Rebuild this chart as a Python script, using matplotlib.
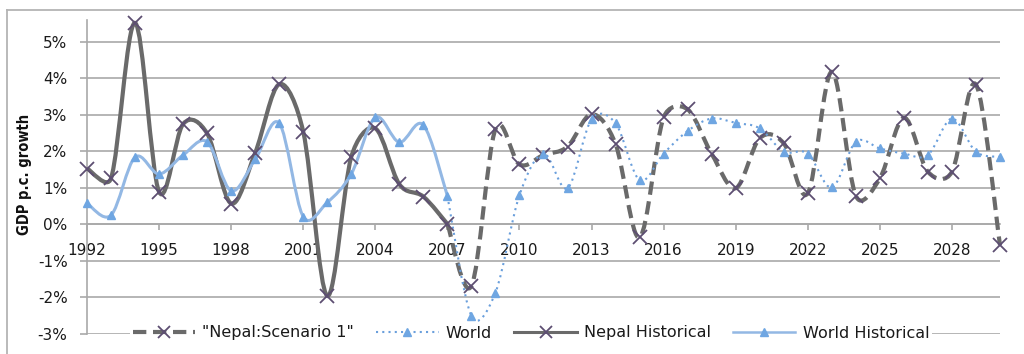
import numpy as np
import matplotlib
matplotlib.use("Agg")
import matplotlib.pyplot as plt
from matplotlib.path import Path
from matplotlib.patches import PathPatch
from matplotlib.lines import Line2D

# ---- data (GDP per-capita growth, %) ----
hist_years = list(range(1992, 2008))
nepal_hist = [1.53, 1.26, 5.52, 0.89, 2.75, 2.49, 0.57, 1.96, 3.84, 2.54,
              -1.96, 1.85, 2.63, 1.10, 0.76, 0.01]
world_hist = [0.58, 0.25, 1.84, 1.38, 1.90, 2.26, 0.92, 1.78, 2.77, 0.21,
              0.60, 1.38, 2.93, 2.25, 2.72, 0.78]

proj_years = list(range(2007, 2031))
nepal_scen = [0.01, -1.69, 2.61, 1.64, 1.90, 2.13, 3.02, 2.20, -0.36, 2.93,
              3.15, 1.93, 0.99, 2.36, 2.22, 0.85, 4.18, 0.78, 1.26, 2.92,
              1.44, 1.44, 3.83, -0.57]
world_proj = [0.78, -2.51, -1.87, 0.80, 1.94, 0.99, 2.88, 2.77, 1.21, 1.94,
              2.56, 2.90, 2.78, 2.63, 1.99, 1.94, 1.01, 2.26, 2.08, 1.94,
              1.90, 2.90, 1.99, 1.85]

tick_years = list(range(1992, 2030, 3))
y_ticks = list(range(-3, 6))
y_label = "GDP p.c. growth"
names = ['"Nepal:Scenario 1"', "World", "Nepal Historical", "World Historical"]

# ---- styles ----
GRID = "#a9a9a9"
NEPAL_LINE = "#6a6a6a"
NEPAL_MARK = "#5d4e72"
WHIST_LINE = "#93b8e4"
WHIST_MARK = "#6fa6e2"
WPROJ_LINE = "#6a9fdc"


def smooth_path(ax, xs, ys):
    """Smoothed Bezier path through the points, built in display space with
    the control-point distance limited to half of each segment, then mapped
    back to data coordinates."""
    to_disp = ax.transData
    pts = to_disp.transform(np.column_stack([xs, ys]).astype(float))
    n = len(pts)
    verts = [pts[0]]
    codes = [Path.MOVETO]
    for i in range(n - 1):
        p0 = pts[i - 1] if i > 0 else pts[i]
        p1 = pts[i]
        p2 = pts[i + 1]
        p3 = pts[i + 2] if i + 2 < n else pts[i + 1]
        d12 = np.hypot(*(p2 - p1))
        d02 = np.hypot(*(p2 - p0))
        d13 = np.hypot(*(p3 - p1))
        f1 = 1 / 6 if d02 / 6 < d12 / 2 else (d12 / 2 / d02 if d02 > 0 else 0)
        f2 = 1 / 6 if d13 / 6 < d12 / 2 else (d12 / 2 / d13 if d13 > 0 else 0)
        c1 = p1 + (p2 - p0) * f1
        c2 = p2 - (p3 - p1) * f2
        verts += [c1, c2, p2]
        codes += [Path.CURVE4] * 3
    data_verts = to_disp.inverted().transform(np.array(verts))
    return Path(data_verts, codes)


fig = plt.figure(figsize=(10.24, 3.54), dpi=100)
fig.patch.set_facecolor("white")
ax = fig.add_axes([87 / 1024, (354 - 333.8) / 354, 913 / 1024, (333.8 - 20) / 354])
ax.set_xlim(1992, 2030)
ax.set_ylim(-3, 5.6)

# chart border (left and top edges)
fig.add_artist(Line2D([7 / 1024, 7 / 1024], [0, (354 - 10) / 354],
                      transform=fig.transFigure, color="#b4b4b4", lw=1.3))
fig.add_artist(Line2D([7 / 1024, 1.0], [(354 - 10) / 354, (354 - 10) / 354],
                      transform=fig.transFigure, color="#b4b4b4", lw=1.3))

# series
ax.add_patch(PathPatch(smooth_path(ax, proj_years, nepal_scen), fill=False,
                       edgecolor=NEPAL_LINE, lw=3.0, linestyle=(0, (3.2, 1.6)),
                       capstyle="butt", zorder=3, clip_on=False))
ax.plot(proj_years[1:], nepal_scen[1:], ls="none", marker="x", ms=10.5, mew=1.3,
        color=NEPAL_MARK, zorder=4, clip_on=False)

ax.add_patch(PathPatch(smooth_path(ax, proj_years, world_proj), fill=False,
                       edgecolor=WPROJ_LINE, lw=1.5, linestyle=(0, (1, 2)),
                       zorder=3, clip_on=False))
ax.plot(proj_years[1:], world_proj[1:], ls="none", marker="^", ms=6,
        color=WHIST_MARK, mec=WHIST_MARK, zorder=4, clip_on=False)

ax.add_patch(PathPatch(smooth_path(ax, hist_years, nepal_hist), fill=False,
                       edgecolor=NEPAL_LINE, lw=3.0, zorder=3, clip_on=False))
ax.plot(hist_years, nepal_hist, ls="none", marker="x", ms=10.5, mew=1.3,
        color=NEPAL_MARK, zorder=4, clip_on=False)

ax.add_patch(PathPatch(smooth_path(ax, hist_years, world_hist), fill=False,
                       edgecolor=WHIST_LINE, lw=2.2, zorder=3, clip_on=False))
ax.plot(hist_years, world_hist, ls="none", marker="^", ms=6,
        color=WHIST_MARK, mec=WHIST_MARK, zorder=4, clip_on=False)

# axes
ax.set_yticks(y_ticks)
ax.set_yticklabels([f"{v}%" for v in y_ticks])
ax.set_xticks(tick_years)
ax.set_xticklabels([str(y) for y in tick_years])
ax.grid(axis="y", color=GRID, lw=1.2, zorder=0)
ax.set_axisbelow(True)
for s in ("top", "right"):
    ax.spines[s].set_visible(False)
ax.spines["left"].set_color(GRID)
ax.spines["left"].set_linewidth(1.2)
ax.spines["bottom"].set_position(("data", 0))
ax.spines["bottom"].set_color(GRID)
ax.spines["bottom"].set_linewidth(1.2)
ax.tick_params(axis="y", direction="out", length=5, width=1.2, color=GRID,
               pad=9, labelsize=11, labelcolor="#1a1a1a")
ax.tick_params(axis="x", direction="out", length=4.5, width=1.2, color=GRID,
               pad=9, labelsize=11, labelcolor="#1a1a1a")
for lab in ax.get_xticklabels() + ax.get_yticklabels():
    lab.set_family("DejaVu Sans")

fig.text(25 / 1024, (354 - 174) / 354, y_label, rotation=90, ha="center",
         va="center", fontsize=10.5, fontweight="bold", fontstretch="condensed",
         family=["Liberation Sans Narrow", "DejaVu Sans"], color="#111111")

# legend
handles = [
    Line2D([], [], color=NEPAL_LINE, lw=3.0, ls=(0, (3.2, 1.6)), marker="x",
           ms=9, mew=1.3, mec=NEPAL_MARK),
    Line2D([], [], color=WPROJ_LINE, lw=1.5, ls=(0, (1, 2)), marker="^",
           ms=6, mfc=WHIST_MARK, mec=WHIST_MARK),
    Line2D([], [], color=NEPAL_LINE, lw=2.2, marker="x", ms=9, mew=1.3,
           mec=NEPAL_MARK),
    Line2D([], [], color=WHIST_LINE, lw=1.8, marker="^", ms=6,
           mfc=WHIST_MARK, mec=WHIST_MARK),
]
leg = fig.legend(handles, names, loc="center", ncol=4,
                 bbox_to_anchor=(531 / 1024, (354 - 333) / 354),
                 frameon=True, facecolor="white", edgecolor="none",
                 framealpha=1, fancybox=False, borderpad=0.15,
                 handlelength=3.9, handletextpad=0.45, columnspacing=1.4,
                 prop={"family": "DejaVu Sans", "size": 11.5})
for t in leg.get_texts():
    t.set_color("#1a1a1a")

fig.savefig("out.png", dpi=100, facecolor="white")
